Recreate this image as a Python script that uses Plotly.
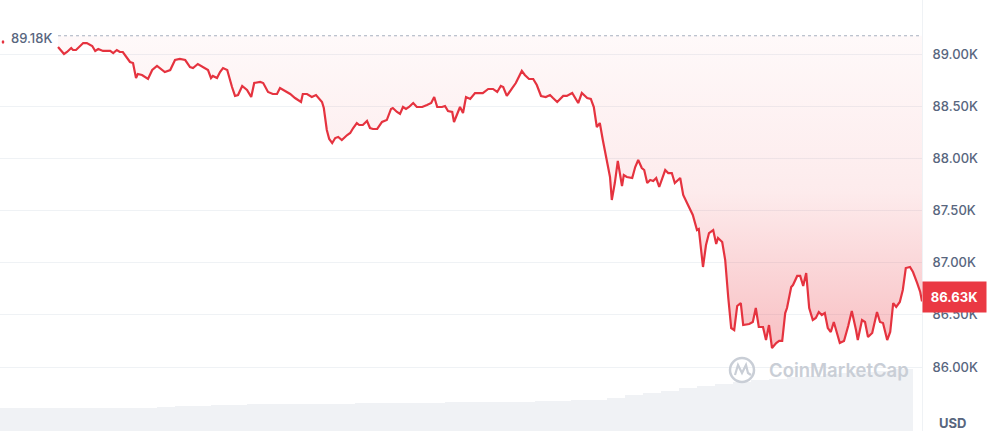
import plotly.graph_objects as go

# ---- price series (minutes since window start, USD) ----
times = [0,10,15,22,25,30,42,48,57,62,67,75,87,92,98,103,108,115,120,125,130,133,140,150,157,165,173,178,187,195,203,212,220,225,233,245,250,255,258,265,270,275,282,290,295,300,307,315,322,327,337,342,350,358,365,
         370,378,387,395,405,408,415,423,430,440,443,448,452,457,462,467,473,482,487,492,498,502,508,515,520,525,532,540,548,555,558,565,570,575,580,585,592,598,607,615,622,627,632,640,645,650,657,660,665,670,675,680,687,695,703,708,717,725,732,
         738,742,748,757,763,773,778,785,792,798,805,813,820,825,832,842,848,857,862,867,873,882,888,893,898,903,908,915,920,923,928,933,940,943,948,957,962,967,973,977,982,987,992,997,1002,1012,1017,1023,1028,1037,1042,1050,1058,1065,1068,
         1075,1080,1085,1092,1097,1100,1107,1112,1117,1122,1127,1132,1138,1142,1152,1158,1163,1168,1175,1180,1185,1190,1197,1202,1207,1212,1215,1222,1225,1232,1237,1242,1247,1252,1258,1263,1268,1273,1278,1283,1288,1293,1303,1310,1317,1323,1330,1333,
         1340,1345,1350,1357,1365,1370,1375,1382,1387,1392,1397,1403,1408,1413,1420,1425,1432,1437,1440]
prices = [89072,89005,89024,89062,89043,89043,89110,89110,89082,89034,89053,89034,89034,89014,89043,89024,89024,88966,88928,88918,88774,88813,88803,88765,88851,88890,88851,88832,88851,88947,88957,88947,88880,88870,88909,88870,88851,88774,88794,88774,88832,88870,88851,88688,88602,88611,88698,88659,88592,88726,88736,88726,88640,88621,88621,
          88678,88650,88621,88582,88544,88621,88621,88592,88611,88544,88486,88275,88189,88150,88198,88208,88179,88227,88246,88294,88342,88323,88323,88362,88294,88285,88285,88352,88371,88477,88486,88448,88429,88496,88477,88496,88534,88496,88496,88515,88534,88592,88496,88496,88506,88458,88448,88352,88419,88496,88438,88592,88573,88630,88630,88630,88669,88669,88640,
          88698,88688,88602,88678,88726,88842,88803,88765,88765,88707,88602,88592,88611,88582,88544,88602,88602,88630,88582,88534,88630,88582,88573,88496,88304,88342,88179,87958,87824,87603,87766,87978,87738,87843,87824,87814,87920,87987,87910,87891,87766,87795,87786,87814,87728,87891,87862,87862,87766,87814,87651,87555,87460,87315,87325,
          86960,87171,87286,87315,87181,87238,87200,87027,86672,86374,86355,86586,86614,86403,86413,86432,86566,86384,86384,86259,86403,86182,86230,86250,86250,86518,86566,86768,86787,86874,86874,86778,86902,86566,86451,86470,86528,86499,86518,86374,86336,86432,86230,86250,86394,86538,86355,86259,
          86451,86432,86288,86326,86528,86432,86422,86259,86336,86614,86576,86624,86739,86950,86960,86912,86806,86720,86630]

reference_price = 89180
last_price = 86630

# ---- volume (bars every 30 minutes, billions USD) ----
vol_times = list(range(-105, 1396, 30))
vol_values = [30,30,30,30,30,30,30,30,30.5,31.2,32.5,32.5,33.2,33.8,34.5,35.1,35.1,35.1,35.1,35.1,35.8,35.8,36.4,36.4,36.4,37.1,37.1,37.7,37.7,37.7,
              38.4,39,39.7,40.3,43.5,46.5,49.5,52.5,55.5,58.5,61.5,64,66,68,70,72,74,75.5,77,78.5,80]

tick_vals = [86000, 86500, 87000, 87500, 88000, 88500, 89000]
tick_text = ["86.00K", "86.50K", "87.00K", "87.50K", "88.00K", "88.50K", "89.00K"]

assert len(times) == len(prices), (len(times), len(prices))
assert len(vol_times) == len(vol_values), (len(vol_times), len(vol_values))

RED = "#e5333f"
GREY = "#58667e"
WM = "#c9ced6"

fig = go.Figure()

fig.add_trace(go.Bar(x=vol_times, y=vol_values, width=30, offset=0, yaxis="y2",
                     marker=dict(color="#f0f2f5", line=dict(width=0)), hoverinfo="skip", showlegend=False))

fig.add_trace(go.Scatter(x=[times[0], times[-1]], y=[reference_price, reference_price], mode="lines",
                         line=dict(color="#a7b0bf", width=1.2, dash="dot"), hoverinfo="skip", showlegend=False))

fig.add_trace(go.Scatter(x=times, y=prices, mode="lines", fill="tonexty",
                         fillgradient=dict(type="vertical",
                                           colorscale=[[0, "rgba(234,57,67,0.32)"], [0.5, "rgba(234,57,67,0.10)"], [1, "rgba(234,57,67,0.03)"]]),
                         line=dict(color=RED, width=2.2), showlegend=False))

PLOT_W, PLOT_H = 922, 431
fig.update_layout(
    width=989, height=433,
    margin=dict(l=0, r=989 - PLOT_W, t=0, b=433 - PLOT_H),
    paper_bgcolor="white", plot_bgcolor="white",
    font=dict(family="Inter, Roboto, sans-serif", color=GREY),
    bargap=0,
    xaxis=dict(range=[-96.7, 1440], visible=False, showgrid=False, zeroline=False),
    yaxis=dict(range=[85385.6, 89523.2], side="right", tickvals=tick_vals, ticktext=tick_text,
               tickfont=dict(size=13, color=GREY, weight=500), gridcolor="#eff2f5", gridwidth=1,
               showline=True, linecolor="#eff2f5", zeroline=False, ticks="", ticklabelstandoff=7),
    yaxis2=dict(range=[0, 560], overlaying="y", visible=False, showgrid=False),
    showlegend=False,
)

fig.add_annotation(text="89.18K", xref="paper", x=9 / PLOT_W, xanchor="left", yref="y", y=89158, yanchor="middle",
                   showarrow=False, font=dict(size=13, color=GREY, weight=500))
fig.add_annotation(text="<b>86.63K</b>", xref="paper", x=1, xanchor="left", yref="y", y=86670, yanchor="middle",
                   showarrow=False, bgcolor="#ea3943", width=59, height=26, borderpad=2,
                   font=dict(size=13, color="white"))
fig.add_annotation(text="<b>USD</b>", xref="paper", x=937 / PLOT_W, xanchor="left", yref="paper", y=1 - 423 / PLOT_H,
                   yanchor="middle", showarrow=False, font=dict(size=13, color=GREY))
fig.add_annotation(text="CoinMarketCap", xref="paper", x=767 / PLOT_W, xanchor="left", yref="paper", y=1 - 370 / PLOT_H,
                   yanchor="middle", showarrow=False, font=dict(size=18.5, color=WM, weight=600))

# watermark logo
fig.add_shape(type="circle", xref="paper", yref="paper", xsizemode="pixel", ysizemode="pixel",
              xanchor=742 / PLOT_W, yanchor=1 - 370 / PLOT_H, x0=-12, x1=12, y0=-12, y1=12,
              line=dict(color=WM, width=2.5), layer="above")
fig.add_shape(type="path", xref="paper", yref="paper", xsizemode="pixel", ysizemode="pixel",
              xanchor=742 / PLOT_W, yanchor=1 - 370 / PLOT_H,
              path="M -7,-5 L -4,5 L 0,-3 L 4,5 L 6,-3 L 9,-5",
              line=dict(color=WM, width=2.2), layer="above")
# small red marker at the left edge
fig.add_shape(type="circle", xref="paper", yref="y", xsizemode="pixel", ysizemode="pixel",
              xanchor=3 / PLOT_W, yanchor=89120, x0=-1.3, x1=1.3, y0=-1.8, y1=1.8,
              fillcolor=RED, line=dict(width=0))

fig.write_html("out.html", config={"displayModeBar": False},
               post_script="document.body.style.margin='0';document.body.style.overflow='hidden';")
